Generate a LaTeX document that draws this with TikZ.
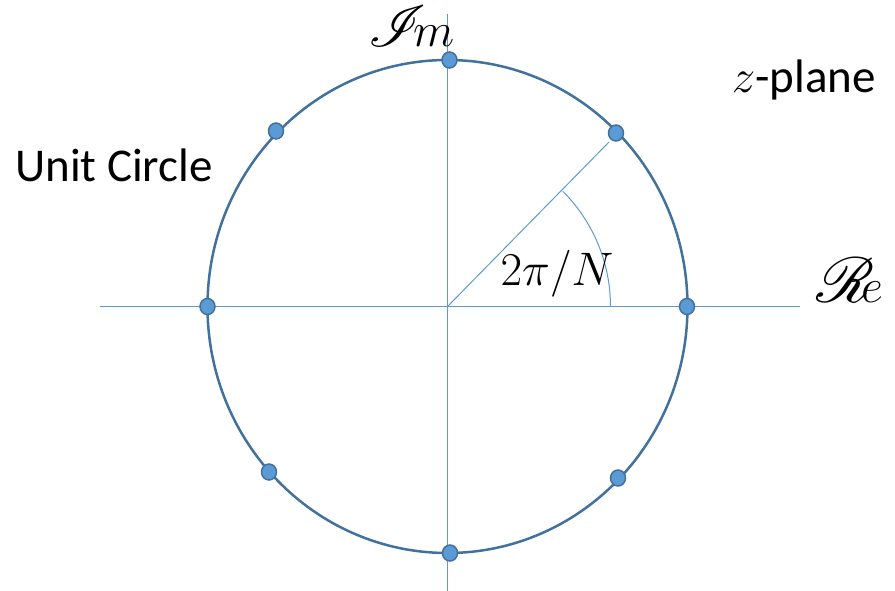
\RequirePackage{fix-cm}
\documentclass[tikz,border=0pt]{standalone}
\usepackage{mathrsfs}
\usepackage{graphicx}
\usepackage{fontspec}
\setmainfont{Carlito}
\usetikzlibrary{shapes.geometric}
\definecolor{circ}{HTML}{41719C}
\definecolor{axis}{HTML}{5B9BD5}
\newcommand{\bigscr}[2]{\resizebox{58pt}{!}{$\mathscr{#1}$}\kern-13pt{\fontsize{48}{48}\selectfont$#2$}}
\begin{document}
\begin{tikzpicture}[x=1pt,y=-1pt,
  axisline/.style={draw=axis,line width=1pt},
  pole/.style={ellipse,draw=circ,fill=axis,line width=1.5pt,minimum width=15pt,minimum height=16pt,inner sep=0pt},
  lbl/.style={font=\fontsize{47}{50}\selectfont,inner sep=0pt},
  scr/.style={inner sep=0pt}]
\useasboundingbox (0,0) rectangle (895,591);
\coordinate (O) at (447.5,306.5);
\coordinate (xl) at (100,306.5);
\coordinate (xr) at (800,306.5);
\coordinate (yt) at (447.5,14);
\coordinate (yb) at (447.5,591);
\coordinate (ray) at (609,142);
\draw[axisline] (xl) -- (xr);
\draw[axisline] (yt) -- (yb);
\draw[axisline] (O) -- (ray);
\draw[axisline] ([shift={(0:163)}]O) arc[start angle=0,end angle=-45,radius=163];
\draw[circ,line width=2.5pt] (O) ellipse[x radius=240,y radius=246.5];
\node[pole] (p0) at (687,306.5) {};
\node[pole] (p1) at (616,133) {};
\node[pole] (p2) at (449.5,60) {};
\node[pole] (p3) at (276,131) {};
\node[pole] (p4) at (207.5,306.5) {};
\node[pole] (p5) at (269,472) {};
\node[pole] (p6) at (450,553) {};
\node[pole] (p7) at (618,478) {};
\node[lbl,anchor=base west] (uc) at (15,182) {Unit Circle};
\node[lbl,anchor=base east] (zp) at (876,93) {$z$-plane};
\node[lbl,anchor=base] (ang) at (557,285) {$2\pi/N$};
\node[scr,anchor=base west] (im) at (368,47) {\bigscr{I}{m}};
\node[scr,anchor=base west] (re) at (816,302) {\bigscr{R}{e}};
\end{tikzpicture}
\end{document}
